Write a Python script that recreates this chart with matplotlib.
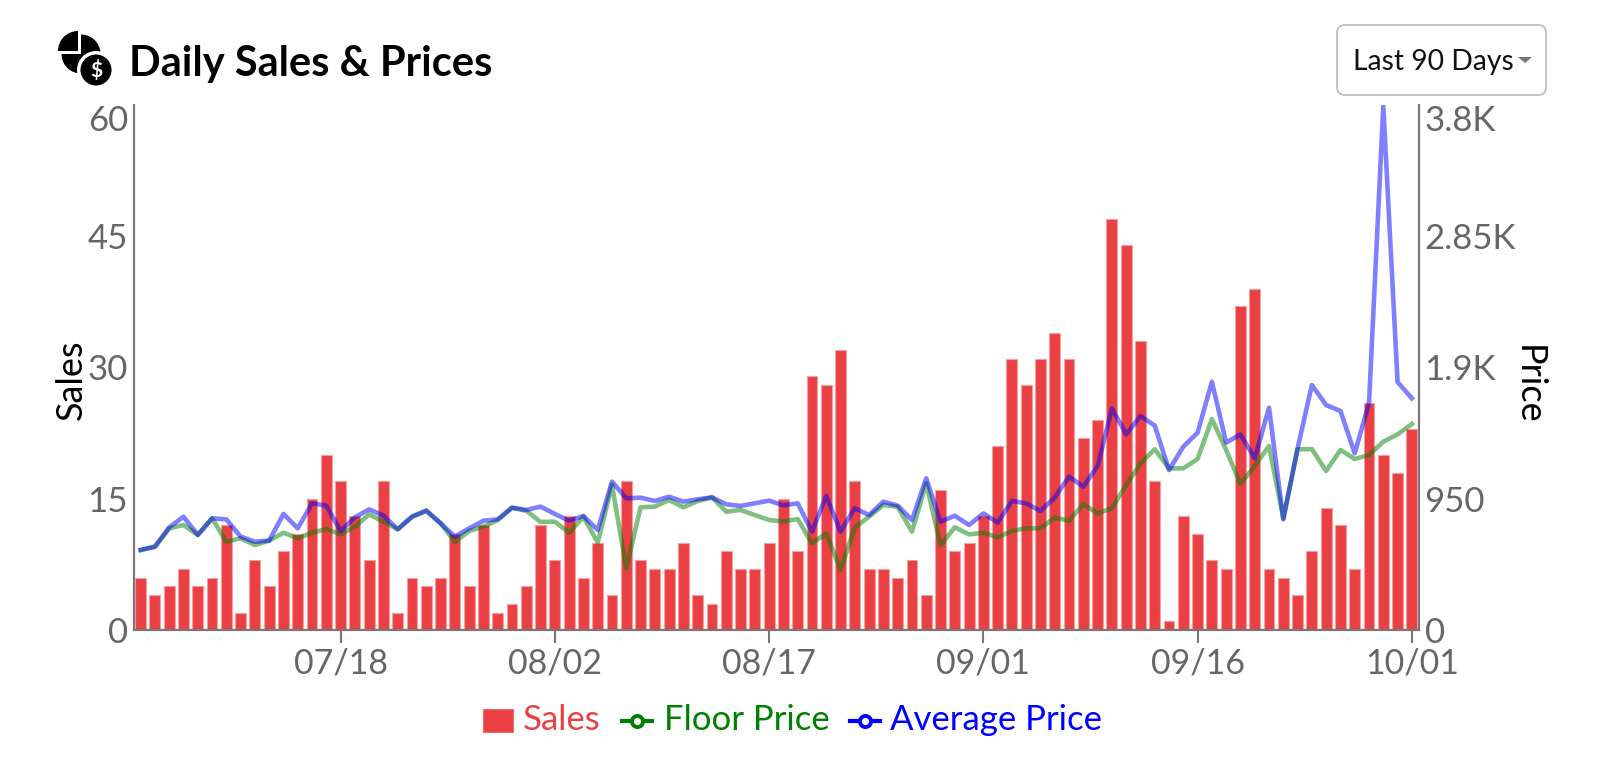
import numpy as np
import matplotlib
matplotlib.use('Agg')
import matplotlib.pyplot as plt
from matplotlib.patches import Circle, FancyBboxPatch, Polygon, Rectangle, Wedge
from matplotlib.lines import Line2D

W, H = 1600, 776

sales = [6, 4, 5, 7, 5, 6, 12, 2, 8, 5,
         9, 11, 15, 20, 17, 13, 8, 17, 2, 6,
         5, 6, 11, 5, 12, 2, 3, 5, 12, 8,
         13, 6, 10, 4, 17, 8, 7, 7, 10, 4,
         3, 9, 7, 7, 10, 15, 9, 29, 28, 32,
         17, 7, 7, 6, 8, 4, 16, 9, 10, 13,
         21, 31, 28, 31, 34, 31, 22, 24, 47, 44,
         33, 17, 1, 13, 11, 8, 7, 37, 39, 7,
         6, 4, 9, 14, 12, 7, 26, 20, 18, 23]

floor_price = [579, 603, 736, 760, 688, 808, 639, 664, 615, 647,
               704, 664, 704, 731, 692, 748, 837, 784, 729, 820,
               864, 772, 639, 717, 748, 796, 885, 864, 782, 784,
               704, 820, 632, 1050, 446, 888, 893, 941, 888, 934,
               960, 856, 869, 832, 796, 786, 803, 627, 700, 434,
               743, 820, 905, 893, 712, 1062, 615, 743, 692, 704,
               671, 717, 736, 736, 813, 791, 912, 844, 881, 1049,
               1206, 1308, 1170, 1170, 1238, 1527, 1303, 1057, 1187, 1332,
               808, 1308, 1310, 1151, 1303, 1238, 1267, 1363, 1416, 1491]

avg_price = [579, 603, 743, 820, 688, 808, 801, 676, 639, 647,
             840, 736, 917, 900, 717, 816, 873, 828, 729, 820,
             864, 772, 676, 736, 791, 801, 885, 869, 893, 840,
             791, 825, 724, 1074, 953, 958, 934, 965, 929, 946,
             960, 910, 898, 917, 936, 902, 917, 712, 970, 712,
             881, 832, 929, 900, 796, 1098, 784, 827, 760, 844,
             777, 934, 917, 861, 960, 1110, 1037, 1187, 1604, 1416,
             1549, 1479, 1158, 1327, 1428, 1797, 1356, 1416, 1242, 1609,
             801, 1315, 1773, 1628, 1585, 1279, 1643, 3790, 1795, 1677]

tick_labels = ['07/18', '08/02', '08/17', '09/01', '09/16', '10/01']
tick_index = [14, 29, 44, 59, 74, 89]
sales_ticks = [0, 15, 30, 45, 60]
price_ticks = [0, 950, 1900, 2850, 3800]
price_labels = ['0', '950', '1.9K', '2.85K', '3.8K']

plt.rcParams['font.family'] = ['Lato', 'DejaVu Sans']
GREY = '#666666'
SPINE = '#777777'
RED = '#ea4043'

fig = plt.figure(figsize=(W / 100, H / 100), dpi=100)
left, right, top, bottom = 133.5, 1419, 105, 630
ax = fig.add_axes([left / W, 1 - bottom / H, (right - left) / W, (bottom - top) / H])
ax2 = ax.twinx()

x = np.arange(len(sales))
ax.bar(x, sales, width=0.76, color=RED, edgecolor='#f4a0a2', linewidth=0.8, zorder=2)
ax.set_xlim(-0.5, len(sales) - 0.5)
ax.set_ylim(0, 60)
ax.set_yticks(sales_ticks)
ax.set_xticks(tick_index)
ax.set_xticklabels(tick_labels)
ax.tick_params(axis='x', length=9.5, width=1.5, color=SPINE, labelsize=24.5, labelcolor=GREY, pad=3)
ax.tick_params(axis='y', length=0, labelsize=25, labelcolor=GREY, pad=4)

ax2.plot(x, floor_price, color='green', alpha=0.5, lw=3.3, zorder=3)
ax2.plot(x, avg_price, color='blue', alpha=0.5, lw=3.3, zorder=4)
ax2.set_ylim(0, 3800)
ax2.set_yticks(price_ticks)
ax2.set_yticklabels(price_labels)
ax2.tick_params(axis='y', length=0, labelsize=25, labelcolor=GREY, pad=4)

for a in (ax, ax2):
    a.spines['top'].set_visible(False)
    for side in ('left', 'right', 'bottom'):
        a.spines[side].set_color(SPINE)
        a.spines[side].set_linewidth(1.5)

# top labels sit under the axis end instead of centred on it
ax.get_yticklabels()[-1].set_verticalalignment('top')
ax2.get_yticklabels()[-1].set_verticalalignment('top')

# overlay in pixel coordinates for the header, icon and legend
ov = fig.add_axes([0, 0, 1, 1], zorder=10)
ov.set_xlim(0, W)
ov.set_ylim(H, 0)
ov.axis('off')

ov.text(71, 380, 'Sales', rotation=90, fontsize=26, color='black', ha='center', va='center')
ov.text(1528, 385, 'Price', rotation=270, fontsize=26, color='black', ha='center', va='center')
ov.text(129, 64, 'Daily Sales & Prices', fontsize=30, fontweight='bold', color='black', va='center')

ov.add_patch(Wedge((78, 51), 20, 180, 270, fc='black', ec='none'))
ov.add_patch(Wedge((81, 54), 19.5, 270, 180, fc='black', ec='none'))
ov.add_patch(Circle((96, 70), 19, fc='white', ec='none'))
ov.add_patch(Circle((96, 70), 15.5, fc='black', ec='none'))
ov.text(96, 70.5, '$', color='white', fontsize=15, fontweight='bold', ha='center', va='center')

ov.add_patch(FancyBboxPatch((1337, 25), 209, 70, boxstyle='round,pad=0,rounding_size=8',
                            fc='white', ec='#c4c4c4', lw=1.4))
ov.text(1353, 62, 'Last 90 Days', fontsize=20.3, color='#111111', va='center')
ov.add_patch(Polygon([[1518, 57], [1532, 57], [1525, 63]], fc='#777777', ec='none'))

ov.add_patch(Rectangle((483, 709), 30, 23, fc=RED, ec='#f06a6d', lw=0.8))
ov.text(523, 720, 'Sales', fontsize=25, color=RED, va='center')
ov.add_line(Line2D([622, 637, 652], [720.5, 720.5, 720.5], color='green', lw=3,
                   marker='o', markevery=[1], ms=8, mfc='white', mec='green', mew=2.8))
ov.text(664, 720, 'Floor Price', fontsize=25, color='green', va='center')
ov.add_line(Line2D([850, 865, 880], [720.5, 720.5, 720.5], color='blue', lw=3,
                   marker='o', markevery=[1], ms=8, mfc='white', mec='blue', mew=2.8))
ov.text(890, 720, 'Average Price', fontsize=25, color='blue', va='center')

fig.savefig('out.png', dpi=100)
